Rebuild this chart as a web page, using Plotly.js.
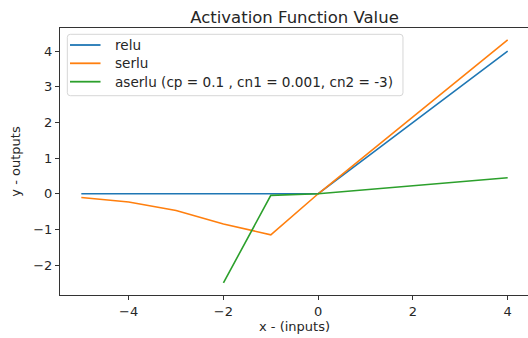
<!DOCTYPE html>
<html>
<head>
<meta charset="utf-8">
<script src="https://cdn.plot.ly/plotly-3.0.1.min.js"></script>
<style>
html,body{margin:0;padding:0;overflow:hidden;background:#fff;}
#chart{width:531px;height:338px;}
</style>
</head>
<body>
<div id="chart"></div>
<script>
var xs = [-5, -4, -3, -2, -1, 0, 1, 2, 3, 4];
var relu = [0, 0, 0, 0, 0, 0, 1, 2, 3, 4];
var serlu = [-0.105, -0.229, -0.468, -0.848, -1.152, 0, 1.079, 2.157, 3.236, 4.314];
var aserluX = [-2, -1, 0, 1, 2, 3, 4];
var aserlu = [-2.5, -0.045, 0, 0.112, 0.224, 0.336, 0.448];
var names = ['relu', 'serlu', 'aserlu (cp = 0.1 , cn1 = 0.001, cn2 = -3)'];
var colors = ['#1f77b4', '#ff7f0e', '#2ca02c'];
var xTicks = [-4, -2, 0, 2, 4];
var yTicks = [-2, -1, 0, 1, 2, 3, 4];

var traces = [
  {x: xs, y: relu, name: names[0], mode: 'lines', line: {color: colors[0], width: 1.6}},
  {x: xs, y: serlu, name: names[1], mode: 'lines', line: {color: colors[1], width: 1.6}},
  {x: aserluX, y: aserlu, name: names[2], mode: 'lines', line: {color: colors[2], width: 1.6}}
];

var F = 'DejaVu Sans';
var axisCommon = {
  showgrid: false, zeroline: false, showline: true, mirror: true,
  linecolor: '#333', linewidth: 1, ticks: 'outside', ticklen: 4,
  tickcolor: '#333', tickwidth: 1,
  tickfont: {family: F, size: 13, color: '#262626'}
};

// matplotlib-style legend box (paper coordinates)
var lg = {x0: 0.0156, x1: 0.7313, y0: 0.7464, y1: 0.9764, rx: 0.0064, ry: 0.0112,
          lineX0: 0.0213, lineX1: 0.0864, textX: 0.1124, rows: [0.9363, 0.8678, 0.7989]};
function roundRect(b) {
  return 'M' + (b.x0 + b.rx) + ',' + b.y1 +
    ' L' + (b.x1 - b.rx) + ',' + b.y1 + ' Q' + b.x1 + ',' + b.y1 + ' ' + b.x1 + ',' + (b.y1 - b.ry) +
    ' L' + b.x1 + ',' + (b.y0 + b.ry) + ' Q' + b.x1 + ',' + b.y0 + ' ' + (b.x1 - b.rx) + ',' + b.y0 +
    ' L' + (b.x0 + b.rx) + ',' + b.y0 + ' Q' + b.x0 + ',' + b.y0 + ' ' + b.x0 + ',' + (b.y0 + b.ry) +
    ' L' + b.x0 + ',' + (b.y1 - b.ry) + ' Q' + b.x0 + ',' + b.y1 + ' ' + (b.x0 + b.rx) + ',' + b.y1 + ' Z';
}
var shapes = [{type: 'path', xref: 'paper', yref: 'paper', path: roundRect(lg),
               fillcolor: 'rgba(255,255,255,0.8)', line: {color: '#d6d6d6', width: 1}, layer: 'above'}];
var annotations = [];
names.forEach(function (n, i) {
  shapes.push({type: 'line', xref: 'paper', yref: 'paper', x0: lg.lineX0, x1: lg.lineX1,
               y0: lg.rows[i], y1: lg.rows[i], line: {color: colors[i], width: 1.8}, layer: 'above'});
  annotations.push({xref: 'paper', yref: 'paper', x: lg.textX, y: lg.rows[i], xanchor: 'left', yanchor: 'middle',
                    text: n, showarrow: false, font: {family: F, size: 13.6, color: '#262626'}});
});

var layout = {
  width: 531, height: 338,
  margin: {l: 60, r: 2, t: 28, b: 43},
  paper_bgcolor: '#fff', plot_bgcolor: '#fff',
  font: {family: F, size: 13, color: '#262626'},
  title: {text: 'Activation Function Value', font: {family: F, size: 16.5, color: '#262626'},
          x: 0.5, xref: 'paper', y: 1, yref: 'paper', yanchor: 'bottom', pad: {b: 5}},
  xaxis: Object.assign({}, axisCommon, {
    range: [-5.45, 4.45], tickvals: xTicks,
    title: {text: 'x - (inputs)', font: {family: F, size: 13, color: '#262626'}, standoff: 2}
  }),
  yaxis: Object.assign({}, axisCommon, {
    range: [-2.84, 4.65], tickvals: yTicks,
    title: {text: 'y - outputs', font: {family: F, size: 13, color: '#262626'}, standoff: 9}
  }),
  showlegend: false,
  shapes: shapes,
  annotations: annotations
};

Plotly.newPlot('chart', traces, layout, {displayModeBar: false, staticPlot: true});
</script>
</body>
</html>
